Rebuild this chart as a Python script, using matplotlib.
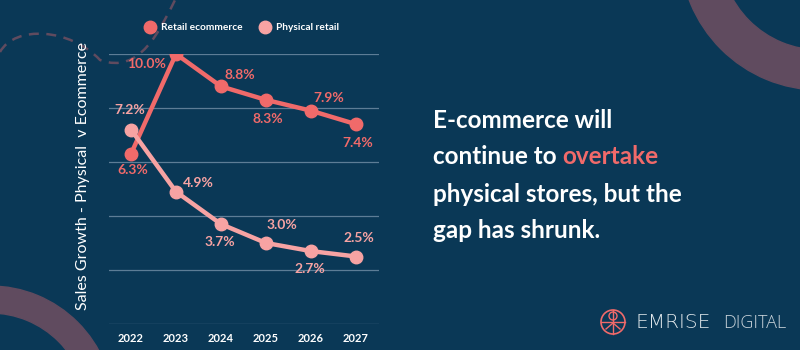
import numpy as np
import matplotlib
matplotlib.use("Agg")
import matplotlib.pyplot as plt
from matplotlib.patches import Wedge, Circle, PathPatch
from matplotlib.path import Path

years = [2022, 2023, 2024, 2025, 2026, 2027]
ecommerce = [6.3, 10.0, 8.8, 8.3, 7.9, 7.4]
physical = [7.2, 4.9, 3.7, 3.0, 2.7, 2.5]
series_names = ["Retail ecommerce", "Physical retail"]
y_title = "Sales Growth - Physical  v Ecommerce"

BG = "#0a3856"
RED = "#f06a6a"
PINK = "#f7a3a3"
MAUVE = "#604b5f"
GRID = "#5d7d96"

# label offsets in pixels (dx, dy)
ecom_off = [(2, -16), (-29, -10), (19, 11), (2, -19), (18, 13), (2, -19)]
phys_off = [(-1, 20), (22, 9), (-1, -18), (16, 18), (-1, -18), (3, 19)]

plt.rcParams["font.family"] = ["Lato", "DejaVu Sans"]

fig = plt.figure(figsize=(8, 3.5), dpi=100, facecolor=BG)

# decoration layer in pixel coords
deco = fig.add_axes([0, 0, 1, 1], zorder=0)
deco.set_xlim(0, 800); deco.set_ylim(350, 0); deco.axis("off")
deco.add_patch(Wedge((820, -50), 140, 0, 360, width=40, color=MAUVE))
deco.add_patch(Wedge((-10, 410), 124, 0, 360, width=27, color=MAUVE))
verts = [(0, 52), (15, 25), (70, 28), (100, 60), (140, 75), (160, 30), (176, -2)]
codes = [Path.MOVETO] + [Path.CURVE4] * 6
deco.add_patch(PathPatch(Path(verts, codes), fill=False, ec=MAUVE, lw=1.8,
                         ls=(0, (4, 3))))

# logo
deco.add_patch(Circle((613, 322), 12, fill=False, ec=RED, lw=1.2))
deco.plot([601, 625], [322, 322], color=RED, lw=1)
deco.plot([613, 613], [310, 334], color=RED, lw=1)
deco.add_patch(Circle((613, 316), 4, fill=False, ec=RED, lw=1))
deco.plot([606, 613, 620], [329, 323, 329], color=RED, lw=1)
deco.text(636, 323, "EMRISE", color="#dfe6ea", fontsize=14.5, va="center",
          ha="left", family="DejaVu Sans", fontweight="light")
deco.text(723, 323, "DIGITAL", color="#c9d3da", fontsize=13, va="center",
          ha="left", family="Open Sans", fontweight="light")

# headline
lines = [["E-commerce will"], ["continue to ", "overtake"],
         ["physical stores, but the"], ["gap has shrunk."]]
for i, parts in enumerate(lines):
    x = 433
    for j, part in enumerate(parts):
        t = deco.text(x, 120 + i * 37, part, color=RED if part == "overtake" else "white",
                      fontsize=17.5, fontweight="bold", va="center", ha="left")
        if j < len(parts) - 1:
            fig.canvas.draw()
            bb = t.get_window_extent()
            x += bb.width

# main chart
ax = fig.add_axes([108.5 / 800, 1 - 324 / 350, 270 / 800, 270 / 350], zorder=1)
ax.set_facecolor("none")
ax.set_xlim(2021.5, 2027.5)
ax.set_ylim(0, 10)
ax.set_yticks([0, 2, 4, 6, 8, 10])
ax.grid(axis="y", color=GRID, lw=0.9)
ax.set_axisbelow(True)
for s in ax.spines.values():
    s.set_visible(False)
ax.tick_params(axis="y", left=False, labelleft=False)
ax.tick_params(axis="x", bottom=False, colors="white", labelsize=8, pad=3)
ax.set_xticks(years)
for lab in ax.get_xticklabels():
    lab.set_fontweight("bold")

ax.plot(years, ecommerce, color=RED, lw=3.2, marker="o", ms=9, zorder=3)
ax.plot(years, physical, color=PINK, lw=3.2, marker="o", ms=9, zorder=3)
for x, v, (dx, dy) in zip(years, ecommerce, ecom_off):
    ax.annotate(f"{v:.1f}%", (x, v), xytext=(dx, dy), textcoords="offset pixels",
                ha="center", va="center", color=RED, fontsize=10, fontweight="bold")
for x, v, (dx, dy) in zip(years, physical, phys_off):
    ax.annotate(f"{v:.1f}%", (x, v), xytext=(dx, dy), textcoords="offset pixels",
                ha="center", va="center", color=PINK, fontsize=10, fontweight="bold")

# legend
deco.plot([150], [27], "o", color=RED, ms=9)
deco.text(161, 27, series_names[0], color="white", fontsize=7.3, fontweight="bold",
          va="center", ha="left")
deco.plot([265], [27], "o", color=PINK, ms=9)
deco.text(276, 27, series_names[1], color="white", fontsize=7.3, fontweight="bold",
          va="center", ha="left")

deco.text(83, 176, y_title, rotation=90, color="white", fontsize=11.5,
          va="center", ha="center")

fig.savefig("out.png", dpi=100, facecolor=BG)
